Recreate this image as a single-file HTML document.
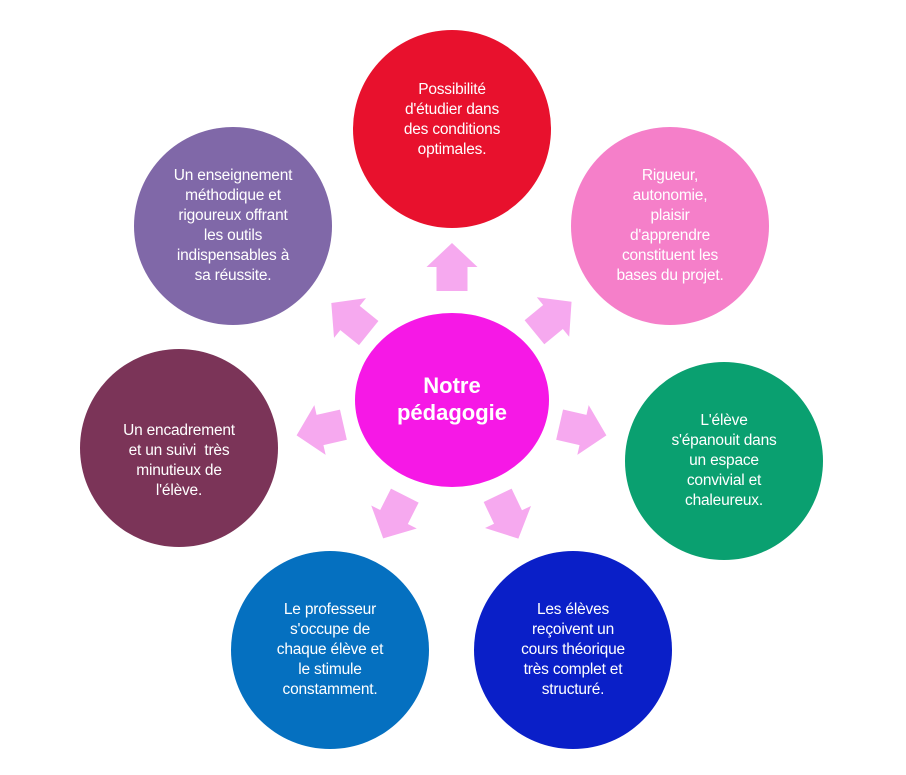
<!DOCTYPE html>
<html><head><meta charset="utf-8"><style>
body{margin:0;width:906px;height:775px;background:#fff;position:relative;overflow:hidden;font-family:"Liberation Sans",sans-serif}
.c{position:absolute;border-radius:50%;display:flex;align-items:center;justify-content:center;text-align:center;color:#fff;font-size:15.5px;line-height:20px;box-sizing:border-box;white-space:nowrap;letter-spacing:-0.2px}
</style></head><body>
<svg width="906" height="775" style="position:absolute;left:0;top:0">
<g fill="#f6a9ef">
<polygon points="-15.5,24 15.5,24 15.5,0 25.5,0 0,-24 -25.5,0 -15.5,0" transform="translate(452,267)"/>
<polygon points="-15.5,24 15.5,24 15.5,0 25.5,0 0,-24 -25.5,0 -15.5,0" transform="translate(553,317) rotate(50.6)"/>
<polygon points="-15.5,24 15.5,24 15.5,0 25.5,0 0,-24 -25.5,0 -15.5,0" transform="translate(583,430) rotate(102.9)"/>
<polygon points="-15.5,24 15.5,24 15.5,0 25.5,0 0,-24 -25.5,0 -15.5,0" transform="translate(508,517) rotate(154.4)"/>
<polygon points="-15.5,24 15.5,24 15.5,0 25.5,0 0,-24 -25.5,0 -15.5,0" transform="translate(394,517) rotate(-153.2)"/>
<polygon points="-15.5,24 15.5,24 15.5,0 25.5,0 0,-24 -25.5,0 -15.5,0" transform="translate(320,430) rotate(-102.8)"/>
<polygon points="-15.5,24 15.5,24 15.5,0 25.5,0 0,-24 -25.5,0 -15.5,0" transform="translate(350,318) rotate(-51.2)"/>
</g>
<ellipse cx="452" cy="400" rx="97" ry="87" fill="#f618e6"/>
<text x="452" y="393" fill="#fff" font-family="Liberation Sans" font-weight="bold" font-size="22" text-anchor="middle">Notre</text>
<text x="452" y="420" fill="#fff" font-family="Liberation Sans" font-weight="bold" font-size="22" text-anchor="middle">pédagogie</text>
</svg>
<div class="c" style="left:353px;top:30px;width:198px;height:198px;background:#e8112d;padding-bottom:18px">Possibilité<br>d'étudier dans<br>des conditions<br>optimales.</div>
<div class="c" style="left:571px;top:127px;width:198px;height:198px;background:#f57fc9">Rigueur,<br>autonomie,<br>plaisir<br>d'apprendre<br>constituent les<br>bases du projet.</div>
<div class="c" style="left:625px;top:362px;width:198px;height:198px;background:#0aa070">L'élève<br>s'épanouit dans<br>un espace<br>convivial et<br>chaleureux.</div>
<div class="c" style="left:474px;top:551px;width:198px;height:198px;background:#0a1fc8">Les élèves<br>reçoivent un<br>cours théorique<br>très complet et<br>structuré.</div>
<div class="c" style="left:231px;top:551px;width:198px;height:198px;background:#0570c0">Le professeur<br>s'occupe de<br>chaque élève et<br>le stimule<br>constamment.</div>
<div class="c" style="left:80px;top:349px;width:198px;height:198px;background:#7b3458;padding-top:26px">Un encadrement<br>et un suivi&nbsp; très<br>minutieux de<br>l'élève.</div>
<div class="c" style="left:134px;top:127px;width:198px;height:198px;background:#8068a8">Un enseignement<br>méthodique et<br>rigoureux offrant<br>les outils<br>indispensables à<br>sa réussite.</div>
</body></html>
